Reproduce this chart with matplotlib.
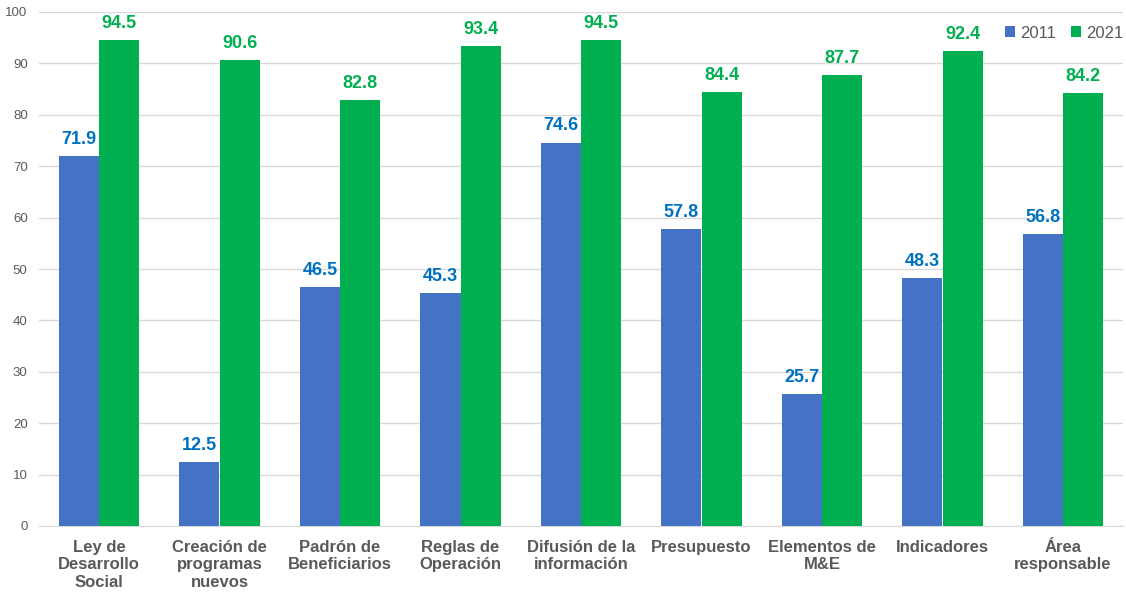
import matplotlib
matplotlib.use("Agg")
import matplotlib.pyplot as plt
import numpy as np

plt.rcParams['font.family'] = ['Liberation Sans', 'DejaVu Sans']

categories = ["Ley de\nDesarrollo\nSocial", "Creación de\nprogramas\nnuevos", "Padrón de\nBeneficiarios",
              "Reglas de\nOperación", "Difusión de la\ninformación", "Presupuesto",
              "Elementos de\nM&E", "Indicadores", "Área\nresponsable"]
values_2011 = [71.9, 12.5, 46.5, 45.3, 74.6, 57.8, 25.7, 48.3, 56.8]
values_2021 = [94.5, 90.6, 82.8, 93.4, 94.5, 84.4, 87.7, 92.4, 84.2]
series_names = ["2011", "2021"]

c_blue = "#4472C4"
c_green = "#00B050"
lab_blue = "#0070C0"
grey = "#595959"

fig = plt.figure(figsize=(11.26, 5.92), dpi=100)
ax = fig.add_axes([38.75/1126, 66/592, (1123.25-38.75)/1126, (526-12)/592])

x = np.arange(len(categories))
w = 0.332
b1 = ax.bar(x - w/2, values_2011, w, color=c_blue, label=series_names[0], zorder=3)
b2 = ax.bar(x + w/2, values_2021, w, color=c_green, label=series_names[1], zorder=3)

for rect, v in zip(b1, values_2011):
    ax.text(rect.get_x() + rect.get_width()/2, v + 1.6, f"{v:.1f}", ha='center', va='bottom',
            color=lab_blue, fontsize=13, fontweight='bold')
for rect, v in zip(b2, values_2021):
    ax.text(rect.get_x() + rect.get_width()/2, v + 1.6, f"{v:.1f}", ha='center', va='bottom',
            color=c_green, fontsize=13, fontweight='bold')

ax.set_xlim(-0.5, len(categories) - 0.5)
ax.set_ylim(0, 100)
ax.set_yticks(np.arange(0, 101, 10))
ax.yaxis.grid(True, color="#D9D9D9", linewidth=1, zorder=0)
ax.set_axisbelow(True)
for s in ['top', 'right', 'left']:
    ax.spines[s].set_visible(False)
ax.spines['bottom'].set_color("#D9D9D9")
ax.tick_params(axis='y', length=0, labelsize=9.5, labelcolor=grey, pad=8)
ax.tick_params(axis='x', length=0, labelsize=12, labelcolor=grey, pad=10)
ax.set_xticks(x)
ax.set_xticklabels(categories, fontweight='bold', linespacing=1.2)

fig.legend(handles=[b1, b2], labels=series_names, loc='upper right', bbox_to_anchor=(1.011, 0.982),
           ncol=2, frameon=False, fontsize=12, labelcolor=grey, handlelength=0.6, handleheight=0.6,
           handletextpad=0.3, columnspacing=0.9)

fig.savefig("out.png", dpi=100)
